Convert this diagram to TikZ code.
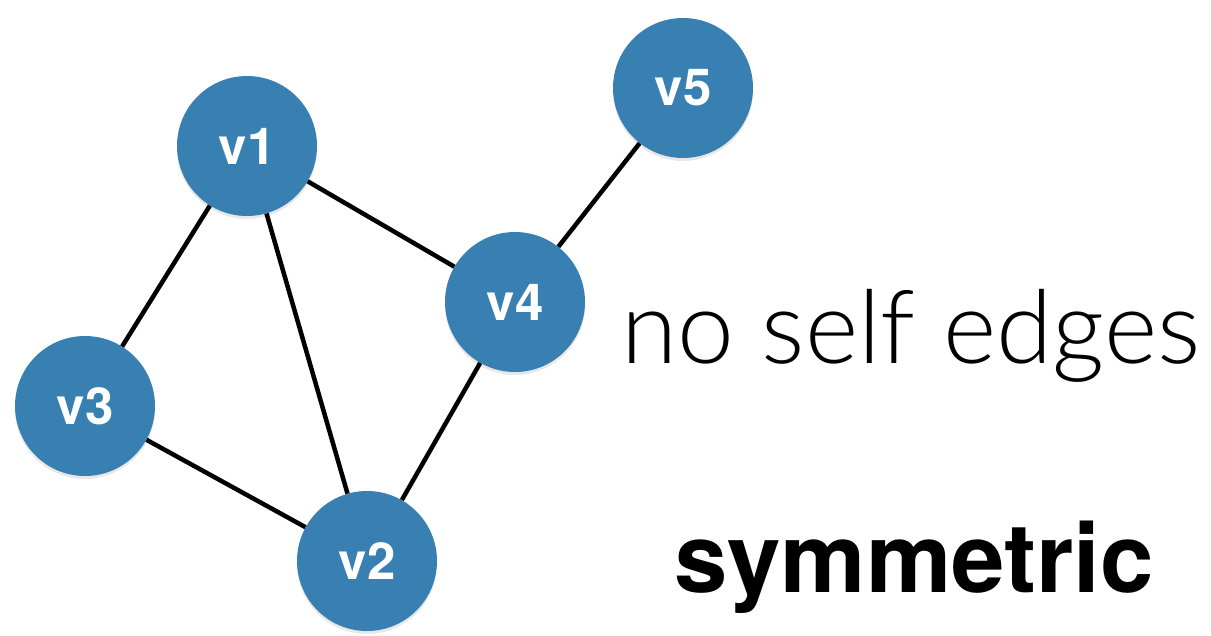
\documentclass[tikz,border=0pt]{standalone}
\usepackage{fontspec}
\setmainfont{TeX Gyre Heros}
\newfontfamily\lightfont{Lato}[UprightFont=* Light]
\usetikzlibrary{shadows}
\definecolor{nodeblue}{RGB}{56,127,178}
\tikzset{
  vertex/.style={circle, fill=nodeblue, minimum size=140pt, inner sep=0pt,
    text=white, font=\fontsize{51}{55}\selectfont\bfseries,
    drop shadow={opacity=0.18, shadow xshift=0pt, shadow yshift=-3pt}},
  edge/.style={line width=4.5pt, black},
  caption/.style={anchor=base west, inner sep=0pt, text=black}
}
\begin{document}
\begin{tikzpicture}[x=1pt, y=-1pt]
  \useasboundingbox (0,0) rectangle (1211,635);
  % vertices
  \node[vertex] (v1) at (247,146) {v1};
  \node[vertex] (v5) at (683,88) {v5};
  \node[vertex] (v4) at (515,302) {v4};
  \node[vertex] (v3) at (85,406) {v3};
  \node[vertex] (v2) at (367,561) {v2};
  % undirected edges
  \draw[edge] (v1) -- (v3);
  \draw[edge] (v1) -- (v2);
  \draw[edge] (v1) -- (v4);
  \draw[edge] (v3) -- (v2);
  \draw[edge] (v2) -- (v4);
  \draw[edge] (v4) -- (v5);
  % properties
  \node[caption, font=\lightfont\fontsize{102}{106}\selectfont] (p1) at (621,363) {no self edges};
  \node[caption, font=\fontsize{96}{100}\selectfont\bfseries] (p2) at (674,592) {symmetric};
\end{tikzpicture}
\end{document}
